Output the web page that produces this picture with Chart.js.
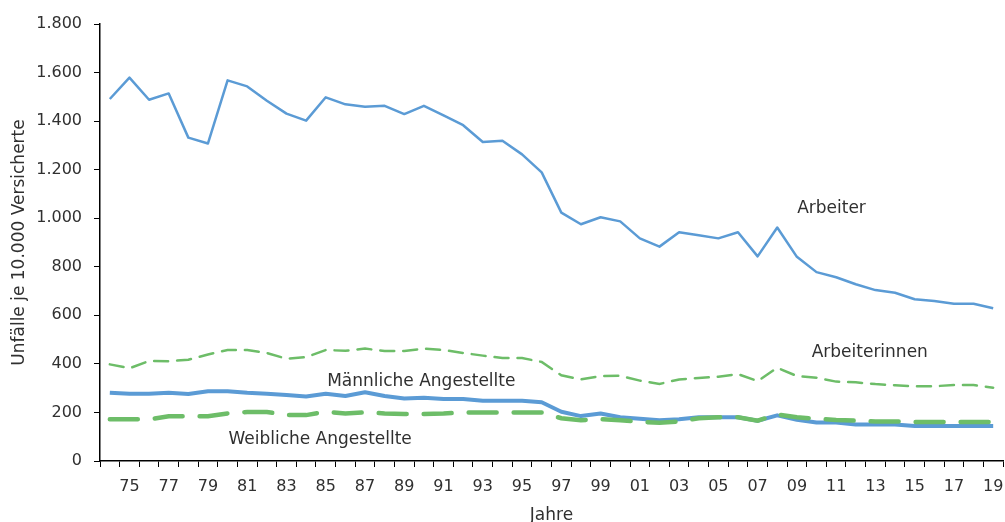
<!DOCTYPE html>
<html>
<head>
<meta charset="utf-8">
<script src="https://cdn.jsdelivr.net/npm/chart.js@4/dist/chart.umd.min.js"></script>
<style>
  html, body { margin: 0; padding: 0; background: #fff; }
  #wrap { width: 1005px; height: 522px; position: relative; }
</style>
</head>
<body>
<div id="wrap"><canvas id="c" width="1005" height="522"></canvas></div>
<script>
const years = [1974,1975,1976,1977,1978,1979,1980,1981,1982,1983,1984,1985,1986,1987,1988,1989,1990,1991,1992,1993,1994,1995,1996,1997,1998,1999,2000,2001,2002,2003,2004,2005,2006,2007,2008,2009,2010,2011,2012,2013,2014,2015,2016,2017,2018,2019];

const arbeiter = [1491,1579,1488,1514,1332,1308,1568,1543,1484,1431,1402,1498,1469,1459,1463,1429,1463,1424,1383,1314,1319,1263,1189,1023,975,1004,987,917,883,942,930,917,942,843,962,841,778,757,728,704,693,666,659,648,648,629];

const arbeiterinnen = [398,382,412,411,417,439,457,457,445,421,428,457,454,463,453,453,463,457,445,434,424,424,408,353,336,350,351,331,317,336,342,347,358,329,384,350,343,327,324,317,312,308,308,313,313,302];

const maennlicheAngestellte = [281,277,277,281,276,287,287,281,277,272,266,277,268,283,268,257,261,255,255,248,248,248,242,203,185,196,180,174,168,172,180,180,180,166,188,170,159,159,150,150,150,144,144,144,144,144];

const weiblicheAngestellte = [172,172,172,184,184,184,196,202,202,189,189,203,196,200,196,194,194,196,200,200,200,200,200,176,168,172,168,161,158,163,176,180,180,166,192,180,174,169,166,163,163,161,161,161,161,161];

const yTicks = [0,200,400,600,800,1000,1200,1400,1600,1800];

const seriesLabels = ['Arbeiter','Arbeiterinnen','Männliche Angestellte','Weibliche Angestellte'];

const FONT = '"DejaVu Sans", Lato, sans-serif';
const TEXT = '#303030';
const BLUE = '#5b9bd5';
const GREEN = '#6dbd68';

function fmt(v) { return String(v).replace(/\B(?=(\d{3})+(?!\d))/g, '.'); }

const labelPlugin = {
  id: 'seriesLabels',
  afterDatasetsDraw(chart) {
    const ctx = chart.ctx;
    const xs = chart.scales.x, ys = chart.scales.y;
    const place = [
      { text: seriesLabels[0], i: years.indexOf(2010), v: 1038, dx: 15 },
      { text: seriesLabels[1], i: years.indexOf(2012), v: 446, dx: 14 },
      { text: seriesLabels[2], i: years.indexOf(1989), v: 327, dx: 17 },
      { text: seriesLabels[3], i: years.indexOf(1984), v: 87, dx: 14 }
    ];
    ctx.save();
    ctx.fillStyle = TEXT;
    ctx.font = '17px ' + FONT;
    ctx.textAlign = 'center';
    ctx.textBaseline = 'middle';
    place.forEach(p => {
      ctx.fillText(p.text, xs.getPixelForValue(p.i) + p.dx, ys.getPixelForValue(p.v));
    });
    ctx.restore();
  }
};

new Chart(document.getElementById('c'), {
  type: 'line',
  data: {
    labels: years,
    datasets: [
      { label: seriesLabels[0], data: arbeiter, borderColor: BLUE, borderWidth: 2.5, pointRadius: 0, tension: 0, fill: false, borderJoinStyle: 'round' },
      { label: seriesLabels[1], data: arbeiterinnen, borderColor: GREEN, borderWidth: 2.5, borderDash: [14, 9], borderCapStyle: 'round', pointRadius: 0, tension: 0, fill: false },
      { label: seriesLabels[3], data: weiblicheAngestellte, borderColor: GREEN, borderWidth: 4.5, borderDash: [28, 17], borderCapStyle: 'round', pointRadius: 0, tension: 0, fill: false },
      { label: seriesLabels[2], data: maennlicheAngestellte, borderColor: BLUE, borderWidth: 4, pointRadius: 0, tension: 0, fill: false, borderJoinStyle: 'round' }
    ]
  },
  options: {
    responsive: false,
    animation: false,
    layout: { padding: { top: 24, right: 2, left: 0, bottom: 0 } },
    plugins: { legend: { display: false }, tooltip: { enabled: false } },
    scales: {
      x: {
        type: 'category',
        offset: true,
        grid: { display: true, drawOnChartArea: false, drawTicks: true, tickLength: 6, color: '#000', offset: true, lineWidth: 1 },
        border: { display: true, color: '#000', width: 1.5 },
        ticks: {
          autoSkip: false, maxRotation: 0, minRotation: 0, padding: 10,
          color: TEXT, font: { family: FONT, size: 16 },
          callback: function(val, idx) {
            const y = years[idx];
            return (y % 2 === 1) ? String(y).slice(2) : '';
          }
        },
        title: { display: true, text: 'Jahre', color: TEXT, font: { family: FONT, size: 17, lineHeight: 0.8 }, padding: { top: 0, bottom: 0 } },
        afterFit: s => { s.height = 61; s.paddingRight = 0; s.paddingLeft = 0; }
      },
      y: {
        min: 0, max: 1800,
        afterBuildTicks: s => { s.ticks = yTicks.map(v => ({ value: v })); },
        grid: { display: true, drawOnChartArea: false, drawTicks: true, tickLength: 6, color: '#000' },
        border: { display: true, color: '#000', width: 1.5 },
        ticks: { padding: 12, color: TEXT, font: { family: FONT, size: 16 }, callback: v => fmt(v) },
        title: { display: true, text: 'Unfälle je 10.000 Versicherte', color: TEXT, font: { family: FONT, size: 17, lineHeight: 1.2 }, padding: { top: 9, bottom: 0 } },
        afterFit: s => { s.width = 100; s.paddingTop = 0; s.paddingBottom = 0; }
      }
    }
  },
  plugins: [labelPlugin]
});
</script>
</body>
</html>
